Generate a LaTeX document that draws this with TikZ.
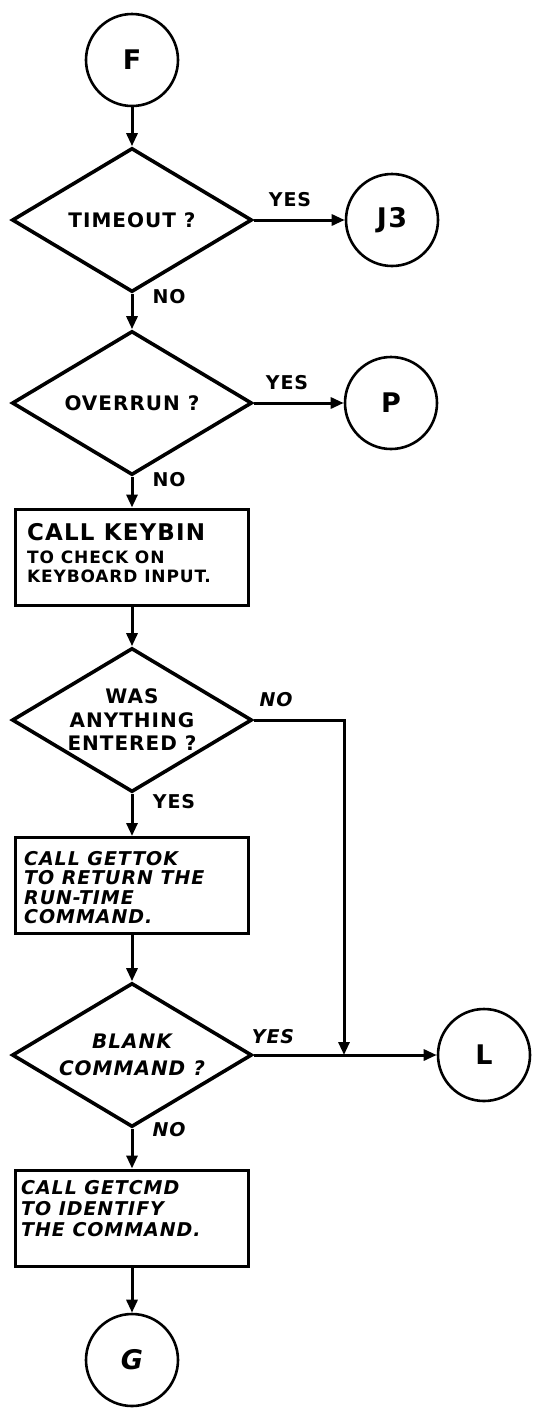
\documentclass[tikz,border=0pt]{standalone}
\usepackage{fontspec}
\usetikzlibrary{shapes.geometric,arrows.meta}
% hand-lettered look: heavy sans capitals with a little extra tracking
\newfontfamily\hand[LetterSpace=5]{DejaVu Sans}

\begin{document}
\begin{tikzpicture}[x=1pt,y=-1pt,
  conn/.style={line width=3pt,-{Triangle[length=13pt,width=11pt]}},
  dec/.style={diamond, draw, line width=3.6pt, minimum width=240pt,
    minimum height=144pt, inner sep=0pt, aspect=1.667, align=center,
    font=\hand\bfseries\fontsize{20}{23.5}\selectfont},
  conc/.style={circle, draw, line width=2.6pt, minimum size=92pt,
    inner sep=0pt, font=\hand\bfseries\fontsize{27}{27}\selectfont},
  proc/.style={rectangle, draw, line width=3pt, minimum width=233pt,
    minimum height=96pt, inner sep=0pt},
  ptext/.style={anchor=north west, inner sep=0pt, align=left},
  lab/.style={inner sep=0pt, font=\hand\bfseries\fontsize{19}{19}\selectfont}
]
\useasboundingbox (0,0) rectangle (536,1414);

% connectors and decisions
\node[conc] (F) at (132,60) {F};
\node[dec] (d1) at (132,220) {TIMEOUT ?};
\node[conc] (J3) at (392,220) {J3};
\node[dec] (d2) at (132,403) {OVERRUN ?};
\node[conc] (P) at (391,403) {P};

\node[proc] (b1) at (132,557) {};
\node[ptext, font=\hand\bfseries\fontsize{17}{19}\selectfont] (b1t) at (27,523)
  {{\fontsize{23}{23}\selectfont CALL KEYBIN}\\[4pt]TO CHECK ON\\KEYBOARD INPUT.};

\node[dec] (d3) at (132,720) {WAS\\ANYTHING\\ENTERED ?};

\node[proc] (b2) at (132,885.5) {};
\node[ptext, font=\hand\bfseries\itshape\fontsize{19}{19.5}\selectfont] (b2t) at (24,851)
  {CALL GETTOK\\TO RETURN THE\\RUN-TIME\\COMMAND.};

\node[dec, font=\hand\bfseries\itshape\fontsize{20}{27}\selectfont] (d4) at (132,1055) {BLANK\\COMMAND ?};
\node[conc] (L) at (484,1055) {L};

\node[proc] (b3) at (132,1218) {};
\node[ptext, font=\hand\bfseries\itshape\fontsize{19}{21}\selectfont] (b3t) at (21,1180)
  {CALL GETCMD\\TO IDENTIFY\\THE COMMAND.};

\node[conc, font=\hand\bfseries\itshape\fontsize{27}{27}\selectfont] (G) at (132,1360) {G};

\coordinate (j) at (344,1055);

% flow lines
\draw[conn] (F) -- (d1);
\draw[conn] (d1) -- (J3);
\draw[conn] (d1) -- (d2);
\draw[conn] (d2) -- (P);
\draw[conn] (d2) -- (b1);
\draw[conn] (b1) -- (d3);
\draw[conn] (d3) -- (b2);
\draw[conn] (d3.east) -| (j);
\draw[conn] (b2) -- (d4);
\draw[conn] (d4) -- (L);
\draw[conn] (d4) -- (b3);
\draw[conn] (b3) -- (G);

% branch labels
\node[lab] (y1) at (290,200) {YES};
\node[lab] (n1) at (169,297) {NO};
\node[lab] (y2) at (287,383) {YES};
\node[lab] (n2) at (169,480) {NO};
\node[lab, font=\hand\bfseries\itshape\fontsize{19}{19}\selectfont] (n3) at (276,700) {NO};
\node[lab] (y3) at (174,802) {YES};
\node[lab, font=\hand\bfseries\itshape\fontsize{19}{19}\selectfont] (y4) at (273,1037) {YES};
\node[lab, font=\hand\bfseries\itshape\fontsize{19}{19}\selectfont] (n4) at (169,1130) {NO};
\end{tikzpicture}
\end{document}
